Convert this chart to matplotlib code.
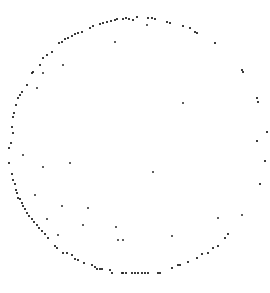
import matplotlib
matplotlib.use("Agg")
import matplotlib.pyplot as plt

# point positions (x right, y down)
x_ring = [93, 100, 103, 107, 111, 115, 117, 123, 126, 129, 133, 137, 148, 152, 155,
          167, 170, 183, 190, 195, 197, 215, 242, 243, 257, 258, 267, 257, 265, 260,
          90, 82, 78, 75, 72, 68, 65, 62, 59, 52, 47, 43, 40, 33, 32, 27, 22, 20, 18,
          16, 14, 13, 12, 13, 11, 9, 9, 12, 13, 15, 16, 17, 18, 20, 22, 23, 25, 27,
          29, 32, 34, 37, 39, 42, 45, 48, 55, 57, 63, 67, 72, 75, 78, 84, 92, 95,
          97, 100, 102, 110, 112, 122, 123, 126, 132, 135, 138, 142, 145, 148, 158,
          160, 172, 178, 180, 188, 197, 202, 208, 213, 218, 225, 228]
y_ring = [26, 24, 23, 22, 21, 20, 19, 19, 18, 19, 20, 17, 18, 18, 19,
          22, 23, 26, 28, 32, 33, 43, 70, 72, 98, 102, 132, 141, 161, 184,
          28, 32, 33, 34, 36, 38, 39, 42, 43, 52, 55, 58, 65, 72, 73, 85, 92, 95, 98,
          105, 113, 117, 127, 133, 143, 148, 163, 174, 180, 184, 190, 193, 198, 199,
          203, 206, 209, 213, 216, 219, 222, 225, 228, 231, 234, 238, 246, 248, 253,
          253, 255, 259, 260, 263, 265, 267, 269, 269, 269, 270, 273, 273, 273, 273,
          273, 273, 273, 273, 273, 273, 273, 273, 268, 265, 265, 262, 258, 254, 253,
          248, 246, 238, 234]

x_inner = [115, 147, 63, 43, 37, 183, 23, 43, 70, 35, 62, 88, 47, 83, 116, 58,
           118, 123, 153, 172, 218, 242]
y_inner = [42, 25, 65, 73, 88, 103, 155, 167, 163, 195, 206, 208, 219, 225, 227,
           235, 240, 240, 172, 236, 218, 215]

fig = plt.figure(figsize=(2.70, 2.93), dpi=100)
ax = fig.add_axes([0, 0, 1, 1])
ax.scatter(x_ring, y_ring, s=4.5, marker='s', color='#1a1a1a', alpha=0.85, linewidths=0)
ax.scatter(x_inner, y_inner, s=2.5, marker='s', color='#2a2a2a', alpha=0.75, linewidths=0)
ax.set_xlim(0, 270)
ax.set_ylim(293, 0)
ax.axis('off')
fig.savefig("out.png", dpi=100, facecolor='white')
